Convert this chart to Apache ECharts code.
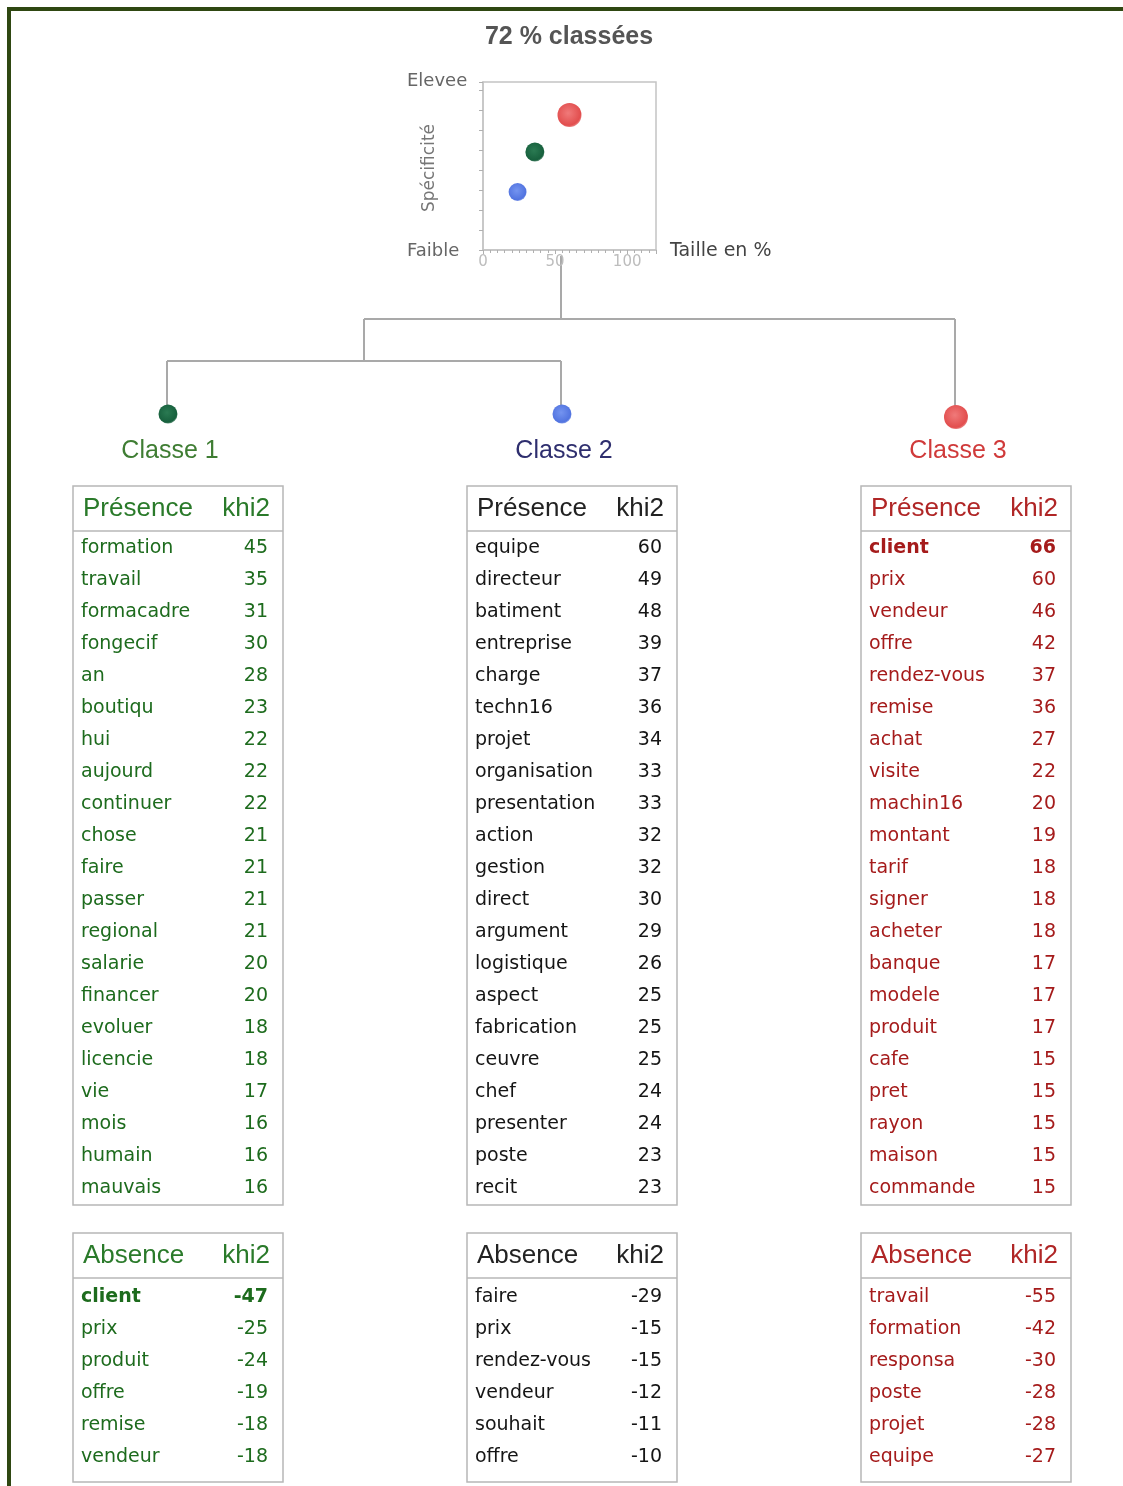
<!DOCTYPE html>
<html><head><meta charset="utf-8">
<script src="https://cdn.jsdelivr.net/npm/echarts@6/dist/echarts.min.js"></script>
<style>html,body{margin:0;padding:0;background:#fff}#c{width:1123px;height:1486px}</style>
</head><body><div id="c"></div>
<script>
// ---------- DATA ----------
const titleText = '72 % classées';
const classNames = ['Classe 1', 'Classe 2', 'Classe 3'];
const classSize = [36, 24, 60];            // Taille en %
const classSpecificity = [4.9, 2.9, 6.75];  // Spécificité (Faible -> Elevee)
const xTickLabels = [0, 50, 100];
const yLowLabel = 'Faible';
const yHighLabel = 'Elevee';
const highlightWord = 'client';

const c1PresenceWords = ['formation','travail','formacadre','fongecif','an','boutiqu','hui','aujourd','continuer','chose','faire','passer','regional','salarie','financer','evoluer','licencie','vie','mois','humain','mauvais'];
const c1PresenceKhi2  = [45,35,31,30,28,23,22,22,22,21,21,21,21,20,20,18,18,17,16,16,16];
const c1AbsenceWords  = ['client','prix','produit','offre','remise','vendeur'];
const c1AbsenceKhi2   = [-47,-25,-24,-19,-18,-18];

const c2PresenceWords = ['equipe','directeur','batiment','entreprise','charge','techn16','projet','organisation','presentation','action','gestion','direct','argument','logistique','aspect','fabrication','ceuvre','chef','presenter','poste','recit'];
const c2PresenceKhi2  = [60,49,48,39,37,36,34,33,33,32,32,30,29,26,25,25,25,24,24,23,23];
const c2AbsenceWords  = ['faire','prix','rendez-vous','vendeur','souhait','offre'];
const c2AbsenceKhi2   = [-29,-15,-15,-12,-11,-10];

const c3PresenceWords = ['client','prix','vendeur','offre','rendez-vous','remise','achat','visite','machin16','montant','tarif','signer','acheter','banque','modele','produit','cafe','pret','rayon','maison','commande'];
const c3PresenceKhi2  = [66,60,46,42,37,36,27,22,20,19,18,18,18,17,17,17,15,15,15,15,15];
const c3AbsenceWords  = ['travail','formation','responsa','poste','projet','equipe'];
const c3AbsenceKhi2   = [-55,-42,-30,-28,-28,-27];

// ---------- STYLE / LAYOUT ----------
const dotColors = [
  ['#2a7a52', '#17603d'],
  ['#7494f0', '#5274e0'],
  ['#f07a7a', '#e24e4e']
];
const labelColors = ['#3f7d33', '#2e2e6e', '#d03a3a'];
const bodyColors = ['#1d6b1d', '#151515', '#a51b1b'];
const headColors = ['#2a7a2a', '#222222', '#b02626'];
const tableX = [73, 467, 861];
const tableW = 210;
const treeX = [167, 561, 955];

const presence = [[c1PresenceWords, c1PresenceKhi2],[c2PresenceWords, c2PresenceKhi2],[c3PresenceWords, c3PresenceKhi2]];
const absence  = [[c1AbsenceWords, c1AbsenceKhi2],[c2AbsenceWords, c2AbsenceKhi2],[c3AbsenceWords, c3AbsenceKhi2]];

const chart = echarts.init(document.getElementById('c'), null, {renderer: 'canvas'});
const g = [];
const BODY_FONT = '"DejaVu Sans", Verdana, sans-serif';
const HEAD_FONT = '"Liberation Sans", Arial, sans-serif';

function dotFill(i) {
  return {type:'radial', x:0.45, y:0.42, r:0.6, colorStops:[{offset:0,color:dotColors[i][0]},{offset:0.85,color:dotColors[i][1]},{offset:1,color:dotColors[i][1] + 'aa'}]};
}

// outer frame
g.push({type:'rect', shape:{x:7,y:7,width:4,height:1479}, style:{fill:'#2f4712'}, z:10});
g.push({type:'rect', shape:{x:7,y:7,width:1116,height:4}, style:{fill:'#2f4712'}, z:10});

// title
g.push({type:'text', style:{text:titleText, x:569, y:37, align:'center', verticalAlign:'middle', fill:'#555', font:'bold 25px ' + HEAD_FONT}});
// axis texts
g.push({type:'text', style:{text:yHighLabel, x:407, y:81, align:'left', verticalAlign:'middle', fill:'#666', font:'18px ' + BODY_FONT}});
g.push({type:'text', style:{text:yLowLabel, x:407, y:251, align:'left', verticalAlign:'middle', fill:'#666', font:'18px ' + BODY_FONT}});
g.push({type:'text', rotation: Math.PI/2, x:430, y:168, style:{text:'Spécificité', x:0, y:0, align:'center', verticalAlign:'middle', fill:'#777', font:'17px ' + BODY_FONT}});
g.push({type:'text', style:{text:'Taille en %', x:670, y:251, align:'left', verticalAlign:'middle', fill:'#444', font:'19px ' + BODY_FONT}});

// dendrogram
const lineStyle = {stroke:'#a9a9a9', lineWidth:2, fill:null};
const segs = [
  [[561,256],[561,319]],
  [[364,319],[treeX[2],319]],
  [[treeX[2],319],[treeX[2],410]],
  [[364,319],[364,361]],
  [[treeX[0],361],[treeX[1],361]],
  [[treeX[0],361],[treeX[0],408]],
  [[treeX[1],361],[treeX[1],408]]
];
segs.forEach(p => g.push({type:'polyline', shape:{points:p}, style:lineStyle}));

// tree dots and class labels
const treeDotY = [414, 414, 417];
const treeDotR = [9.5, 9.5, 12];
classNames.forEach((name, i) => {
  g.push({type:'circle', shape:{cx:treeX[i]+1, cy:treeDotY[i], r:treeDotR[i]}, style:{fill:dotFill(i)}, z:5});
  g.push({type:'text', style:{text:name, x:treeX[i]+3, y:451, align:'center', verticalAlign:'middle', fill:labelColors[i], font:'25px ' + HEAD_FONT}});
});

// tables
function drawTable(i, top, header, words, vals, firstOff) {
  const x = tableX[i];
  const rowH = 32;
  const headH = 45;
  const bodyH = words.length * rowH + (firstOff === 17 ? 2 : 12);
  g.push({type:'rect', shape:{x:x, y:top, width:tableW, height:headH + bodyH}, style:{fill:null, stroke:'#b7b7b7', lineWidth:1.5}});
  g.push({type:'line', shape:{x1:x, y1:top+headH, x2:x+tableW, y2:top+headH}, style:{stroke:'#b7b7b7', lineWidth:1.5}});
  g.push({type:'text', style:{text:header, x:x+10, y:top+23, align:'left', verticalAlign:'middle', fill:headColors[i], font:'26px ' + HEAD_FONT}});
  g.push({type:'text', style:{text:'khi2', x:x+tableW-13, y:top+23, align:'right', verticalAlign:'middle', fill:headColors[i], font:'26px ' + HEAD_FONT}});
  words.forEach((w, k) => {
    const y = top + headH + firstOff + k * rowH;
    const bold = (w === highlightWord && k === 0) ? 'bold ' : '';
    g.push({type:'text', style:{text:w, x:x+8, y:y, align:'left', verticalAlign:'middle', fill:bodyColors[i], font:bold + '19px ' + BODY_FONT}});
    g.push({type:'text', style:{text:String(vals[k]), x:x+tableW-15, y:y, align:'right', verticalAlign:'middle', fill:bodyColors[i], font:bold + '19px ' + BODY_FONT}});
  });
}
for (let i = 0; i < 3; i++) {
  drawTable(i, 486, 'Présence', presence[i][0], presence[i][1], 17);
  drawTable(i, 1233, 'Absence', absence[i][0], absence[i][1], 19);
}

const scatterData = classNames.map((n, i) => ({
  name: n,
  value: [classSize[i], classSpecificity[i]],
  symbolSize: [19, 18, 24][i],
  itemStyle: {color: dotFill(i), opacity: 1}
}));

chart.setOption({
  animation: false,
  backgroundColor: '#fff',
  grid: {left:483, top:82, width:173, height:168, show:true, borderColor:'#c4c4c4', borderWidth:1.5, backgroundColor:'#fff'},
  xAxis: {
    type:'value', min:0, max:120, interval:50,
    axisLine:{show:true, lineStyle:{color:'#c4c4c4', width:1.5}},
    axisTick:{show:true, length:4, lineStyle:{color:'#b0b0b0'}},
    minorTick:{show:true, splitNumber:10, length:3, lineStyle:{color:'#b0b0b0'}},
    splitLine:{show:false},
    axisLabel:{color:'#bdbdbd', fontSize:15, margin:5, fontFamily:'DejaVu Sans',
      formatter: v => xTickLabels.includes(v) ? String(v) : ''}
  },
  yAxis: {
    type:'value', min:0, max:8.4, interval:1,
    axisLine:{show:true, lineStyle:{color:'#c4c4c4', width:1.5}},
    axisTick:{show:true, length:4, lineStyle:{color:'#b0b0b0'}},
    splitLine:{show:false},
    axisLabel:{show:false}
  },
  series: [{type:'scatter', data: scatterData, z:3, itemStyle:{opacity:1}}],
  graphic: g
});
</script>
</body></html>
